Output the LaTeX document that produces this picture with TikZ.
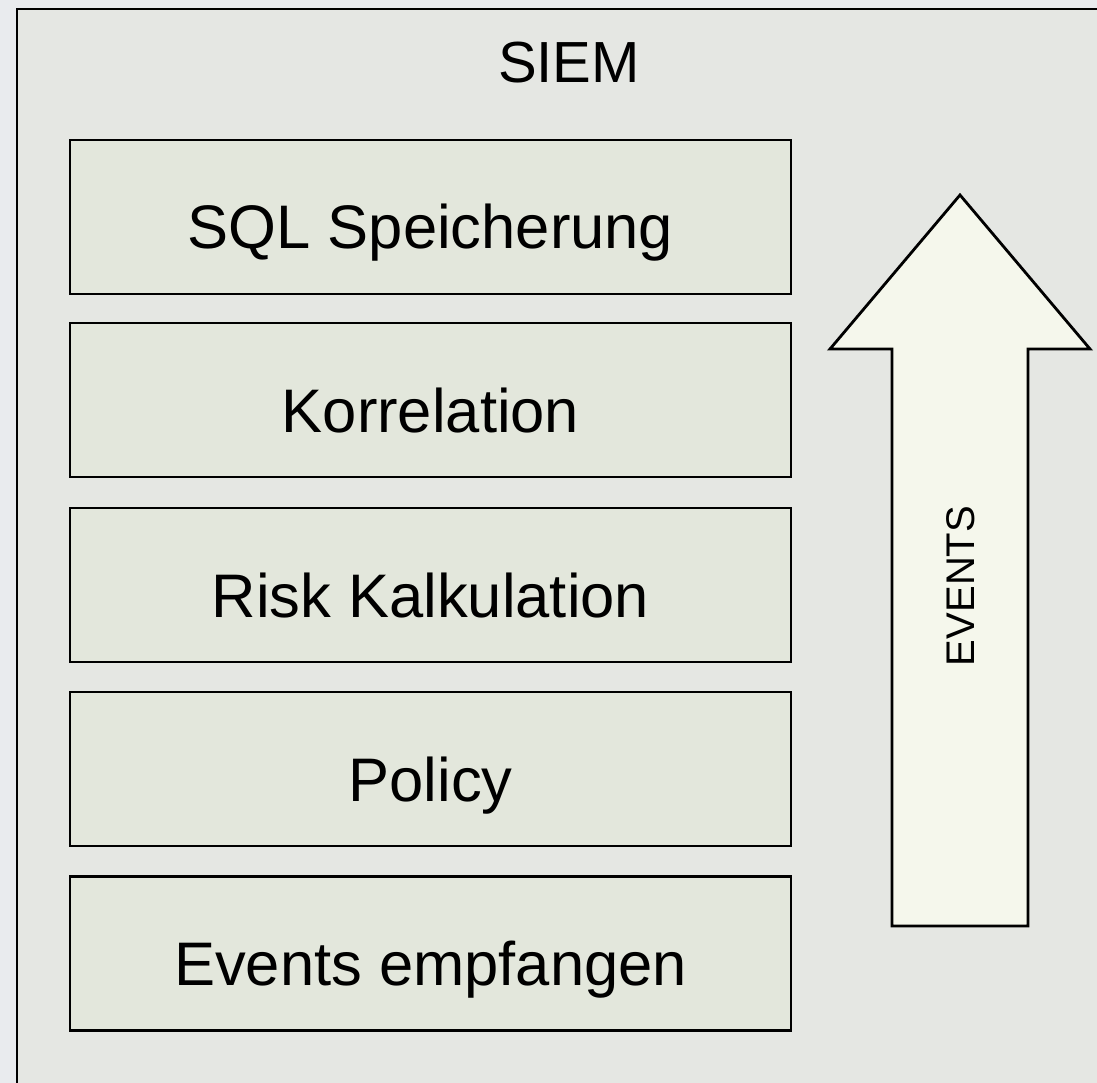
\documentclass[tikz,border=0pt]{standalone}
\usepackage{fontspec}
\setmainfont{Liberation Sans}
\definecolor{pagebg}{HTML}{E9EBEE}
\definecolor{framebg}{HTML}{E5E7E3}
\definecolor{layerbg}{HTML}{E3E7DC}
\definecolor{arrowbg}{HTML}{F5F7EC}
\tikzset{
  layer/.style={draw=black, line width=2.8pt, fill=layerbg, minimum width=721pt,
    minimum height=154pt, inner sep=0pt, text height=64pt, text depth=0pt,
    font=\fontsize{61.5}{62}\selectfont},
  outline/.style={draw=black, line width=2.8pt, line join=miter}
}
\begin{document}
\begin{tikzpicture}[x=1pt, y=-1pt]
  \useasboundingbox (0,0) rectangle (1097,1083);
  \clip (0,0) rectangle (1097,1083);
  \fill[pagebg] (0,0) rectangle (1097,1083);
  % SIEM frame, running off the right and bottom edges
  \draw[outline, fill=framebg] (17,9) rectangle (1120,1110);
  \node[font=\fontsize{58}{58}\selectfont, anchor=base] (siem) at (569,83) {SIEM};
  % processing layers
  \node[layer] (sql)    at (430.5,217) {SQL Speicherung};
  \node[layer] (korr)   at (430.5,400) {Korrelation};
  \node[layer] (risk)   at (430.5,585) {Risk Kalkulation};
  \node[layer] (policy) at (430.5,769) {Policy};
  \node[layer] (recv)   at (430.5,953.5) {Events empfangen};
  % event flow arrow
  \draw[outline, fill=arrowbg] (892,926) -- (892,349) -- (830,349) -- (960,195)
    -- (1090,349) -- (1028,349) -- (1028,926) -- cycle;
  \node[rotate=90, font=\fontsize{40}{40}\selectfont] (events) at (961,586) {EVENTS};
\end{tikzpicture}
\end{document}
